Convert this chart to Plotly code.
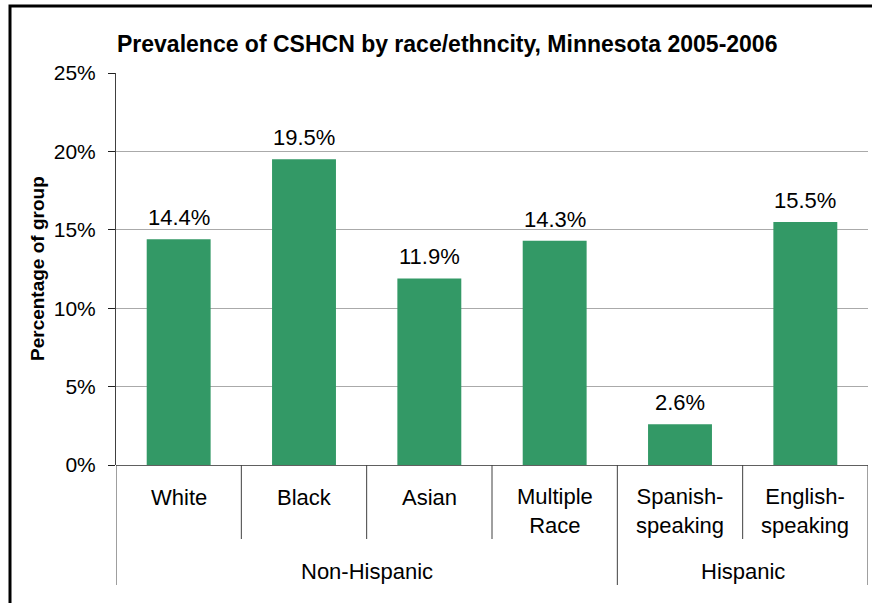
import plotly.graph_objects as go

# Prevalence of children with special health care needs, by group
categories = ["White", "Black", "Asian", "Multiple<br>Race", "Spanish-<br>speaking", "English-<br>speaking"]
groups = ["Non-Hispanic", "Non-Hispanic", "Non-Hispanic", "Non-Hispanic", "Hispanic", "Hispanic"]
values = [14.4, 19.5, 11.9, 14.3, 2.6, 15.5]
y_ticks = [0, 5, 10, 15, 20, 25]
y_tick_labels = ["0%", "5%", "10%", "15%", "20%", "25%"]

FONT = "Arial, Liberation Sans, sans-serif"
W, H = 872, 603
L, R, T, B = 116, 4, 73, 138
PW, PH = W - L - R, H - T - B

def px_x(px):
    return (px - L) / PW

def px_y(py):
    return (H - B - py) / PH

xs = list(range(len(categories)))

fig = go.Figure(go.Bar(
    x=xs, y=values,
    marker=dict(color="#339966", line=dict(width=0)),
    width=0.51,
))

shapes = []
annotations = []

# value labels above the bars
for i, v in enumerate(values):
    annotations.append(dict(
        x=i, xref="x", y=v, yref="y", text=f"{v:.1f}%",
        showarrow=False, xanchor="center", yanchor="bottom", yshift=7,
        font=dict(family=FONT, size=22, color="black"),
    ))

# category labels under the axis
for i, c in enumerate(categories):
    two_line = "<br>" in c
    annotations.append(dict(
        x=i, xref="x", y=px_y(497 if not two_line else 511), yref="paper",
        text=c, showarrow=False, xanchor="center", yanchor="middle",
        font=dict(family=FONT, size=22, color="black"), align="center",
    ))

# group labels and their spans
spans = []
start = 0
for i in range(1, len(groups) + 1):
    if i == len(groups) or groups[i] != groups[start]:
        spans.append((groups[start], start, i - 1))
        start = i
for name, a, b in spans:
    annotations.append(dict(
        x=(a + b) / 2, xref="x", y=px_y(571), yref="paper",
        text=name, showarrow=False, xanchor="center", yanchor="middle",
        font=dict(family=FONT, size=22, color="black"),
    ))

# divider lines between categories and groups
group_bounds = set()
for name, a, b in spans:
    group_bounds.add(a - 0.5)
    group_bounds.add(b + 0.5)
for i in range(len(categories) + 1):
    bx = i - 0.5
    bottom = 585 if bx in group_bounds else 539
    shapes.append(dict(
        type="line", xref="x", yref="paper", x0=bx, x1=bx,
        y0=0, y1=px_y(bottom), line=dict(color="#404040", width=1),
    ))

# outer frame of the chart
shapes.append(dict(
    type="rect", xref="paper", yref="paper",
    x0=px_x(10), x1=px_x(880), y0=px_y(610), y1=px_y(6),
    line=dict(color="black", width=3), fillcolor="rgba(0,0,0,0)", layer="above",
))

# chart title
annotations.append(dict(
    x=px_x(447), xref="paper", y=px_y(44), yref="paper",
    text="<b>Prevalence of CSHCN by race/ethncity, Minnesota 2005-2006</b>",
    showarrow=False, xanchor="center", yanchor="middle",
    font=dict(family=FONT, size=23, color="black"),
))

# y-axis title
annotations.append(dict(
    x=px_x(37), xref="paper", y=px_y(269), yref="paper",
    text="<b>Percentage of group</b>", textangle=-90,
    showarrow=False, xanchor="center", yanchor="middle",
    font=dict(family=FONT, size=19, color="black"),
))

fig.update_layout(
    width=W, height=H,
    margin=dict(l=L, r=R, t=T, b=B, pad=0),
    paper_bgcolor="white", plot_bgcolor="white",
    showlegend=False,
    shapes=shapes, annotations=annotations,
    xaxis=dict(
        range=[-0.5, len(categories) - 0.5], showticklabels=False,
        showgrid=False, zeroline=False, showline=False, ticks="",
        fixedrange=True,
    ),
    yaxis=dict(
        range=[0, 25], tickvals=y_ticks, ticktext=y_tick_labels,
        tickfont=dict(family=FONT, size=21, color="black"),
        showgrid=True, gridcolor="#aaaaaa", gridwidth=1,
        showline=True, linecolor="#404040", linewidth=1,
        zeroline=True, zerolinecolor="#606060", zerolinewidth=1,
        ticks="outside", ticklen=7, tickcolor="#202020",
        ticklabelstandoff=8,
        fixedrange=True,
    ),
)

fig.write_html("out.html")
